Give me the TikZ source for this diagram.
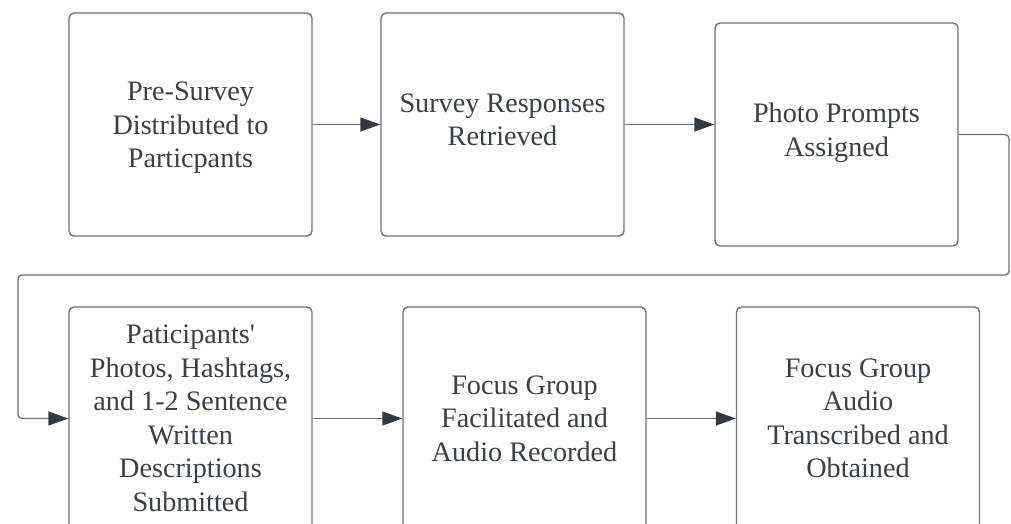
\documentclass[tikz,border=0pt]{standalone}
\usepackage{fontspec}
\setmainfont{Liberation Serif}
\usetikzlibrary{arrows.meta}
\definecolor{ink}{HTML}{3A4049}
\definecolor{edge}{HTML}{6E7278}
\definecolor{tipc}{HTML}{333A44}
\tikzset{
  stepbox/.style={draw=edge, line width=1.4pt, rounded corners=5pt, minimum width=243pt, minimum height=223pt,
    align=center, text=ink, font=\fontsize{28.2pt}{33.5pt}\selectfont, inner sep=0pt},
  conn/.style={draw=edge, line width=1.4pt, rounded corners=4pt,
    -{Triangle[length=20pt,width=14pt,fill=tipc,color=tipc]}},
}
\begin{document}
\begin{tikzpicture}[x=1pt,y=1pt]
\clip (0,0) rectangle (1011,-524);
\fill[white] (0,0) rectangle (1011,-524);
\node[stepbox] (b1) at (190.5,-124.5) {\\[-8pt]Pre-Survey\\Distributed to\\Particpants};
\node[stepbox] (b2) at (502.5,-124.5) {Survey Responses\\Retrieved\\[-23.5pt]};
\node[stepbox] (b3) at (836.5,-134.5) {Photo Prompts\\Assigned\\[-23.5pt]};
\node[stepbox] (b4) at (190.5,-418.5) {Paticipants\textquotesingle\\Photos, Hashtags,\\and 1-2 Sentence\\Written\\Descriptions\\Submitted};
\node[stepbox] (b5) at (524.5,-418.5) {Focus Group\\Facilitated and\\Audio Recorded};
\node[stepbox] (b6) at (858,-418.5) {Focus Group\\Audio\\Transcribed and\\Obtained};
\coordinate (r1) at (1009,-134.5);
\coordinate (r2) at (1009,-275);
\coordinate (l1) at (18,-275);
\coordinate (l2) at (18,-418.5);
\draw[conn] (b1.east) -- (b2.west);
\draw[conn] (b2.east) -- (b2.east -| b3.west);
\draw[conn] (b3.east) -- (r1) -- (r2) -- (l1) -- (l2) -- (b4.west);
\draw[conn] (b4.east) -- (b5.west);
\draw[conn] (b5.east) -- (b6.west);
\end{tikzpicture}
\end{document}
